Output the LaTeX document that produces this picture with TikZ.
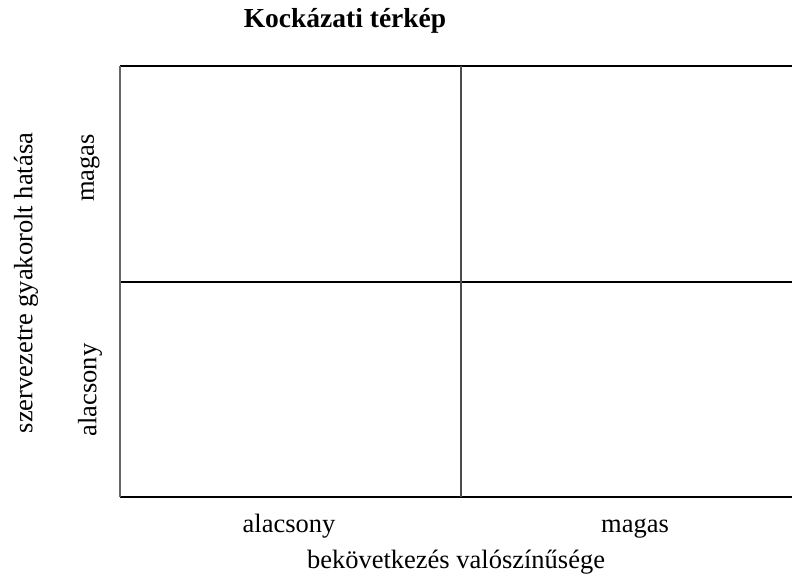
\documentclass[tikz,border=0pt]{standalone}
\usepackage{fontspec}
\setmainfont{Liberation Serif}
\begin{document}
\begin{tikzpicture}[x=1pt, y=-1pt, every node/.style={inner sep=0pt, font=\fontsize{26.5}{30}\selectfont}]
\useasboundingbox (0,0) rectangle (792,581);
% grid
\coordinate (tl) at (120,66);
\coordinate (tr) at (792,66);
\coordinate (ml) at (120,282);
\coordinate (mr) at (792,282);
\coordinate (bl) at (120,497);
\coordinate (br) at (792,497);
\coordinate (mt) at (461,66);
\coordinate (mb) at (461,497);
\draw[line width=2pt] (tl)--(tr);
\draw[line width=2pt] (ml)--(mr);
\draw[line width=2pt] (bl)--(br);
\draw[line width=2pt, black!60] (tl)--(bl);
\draw[line width=1.2pt, black!70] (mt)--(mb);

\node[anchor=base, font=\fontsize{27.5}{31}\selectfont\bfseries] (title) at (345,27) {Kockázati térkép};
\node[anchor=base] (xlow) at (289,532) {alacsony};
\node[anchor=base] (xhigh) at (635,532) {magas};
\node[anchor=base] (xlabel) at (456,568) {bekövetkezés valószínűsége};
\node[rotate=90] (ylow) at (90,390) {alacsony};
\node[rotate=90] (yhigh) at (90,168) {magas};
\node[rotate=90] (ylabel) at (26,283) {szervezetre gyakorolt hatása};
\end{tikzpicture}
\end{document}
